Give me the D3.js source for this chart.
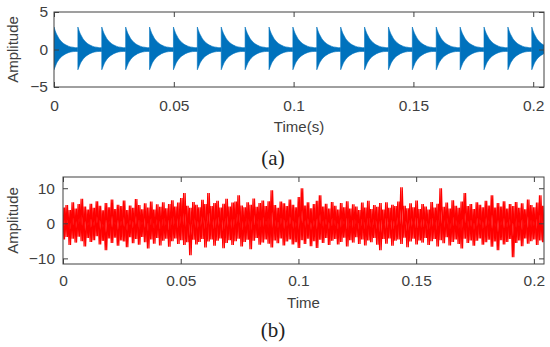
<!DOCTYPE html>
<html>
<head>
<meta charset="utf-8">
<script src="https://cdn.jsdelivr.net/npm/d3@7"></script>
<style>
  body { margin: 0; background: #fff; }
  .axis text { font-family: "Liberation Sans", Arial, sans-serif; font-size: 15.5px; fill: #404040; }
  .axis path, .axis line { stroke: #404040; }
  .axis-label { font-family: "Liberation Sans", Arial, sans-serif; font-size: 15px; fill: #404040; }
  .panel-label { font-family: "Liberation Serif", "Times New Roman", serif; font-size: 21px; fill: #222; }
</style>
</head>
<body>
<div id="chart"></div>
<script>
// (a) periodic impulse train: impulse start times (s) and decay envelope
const impulseTimes = [0, 0.00997, 0.01994, 0.02991, 0.03988, 0.04985, 0.05982, 0.06979,
  0.07976, 0.08973, 0.0997, 0.10967, 0.11964, 0.12961, 0.13958, 0.14955, 0.15952,
  0.16949, 0.17946, 0.18943, 0.1994];
const envOffsets = [0, 0.0005, 0.001, 0.0015, 0.002, 0.003, 0.004, 0.005, 0.006, 0.007, 0.008, 0.009, 0.0099];
const envUpper = [3.0, 2.5, 2.1, 1.8, 1.5, 1.1, 0.8, 0.6, 0.45, 0.35, 0.3, 0.25, 0.25];
const envLower = [-2.7, -2.3, -1.9, -1.6, -1.35, -1.0, -0.75, -0.55, -0.42, -0.33, -0.28, -0.25, -0.25];

// (b) noise: successive peaks / troughs, left to right
const noiseUpper = [
  4.5, 5.2, 3.8, 6.0, 4.2, 5.5, 7.0, 4.8, 3.9, 5.6,
  4.4, 6.3, 5.0, 3.7, 5.8, 4.6, 6.8, 4.1, 5.3, 4.9,
  6.5, 3.8, 5.1, 4.4, 6.9, 5.2, 4.0, 5.7, 4.5, 6.2,
  3.9, 5.4, 4.7, 6.0, 4.3, 5.5, 6.6, 4.8, 5.9, 7.2,
  8.6, 5.0, 4.4, 6.1, 5.3, 4.6, 6.7, 5.5, 8.6, 4.9,
  5.8, 6.4, 4.5, 5.6, 7.0, 4.8, 5.9, 6.2, 8.0, 5.1,
  4.6, 6.0, 5.3, 7.1, 4.7, 5.8, 6.5, 4.9, 6.3, 9.4,
  5.2, 4.4, 6.2, 5.7, 4.9, 6.8, 5.3, 4.6, 7.5, 10.0,
  5.1, 6.0, 4.3, 5.5, 6.4, 8.0, 4.8, 5.6, 4.2, 6.1,
  5.0, 3.9, 5.8, 4.6, 6.3, 4.2, 5.4, 4.8, 3.8, 5.9,
  4.5, 6.4, 4.1, 5.2, 4.7, 5.8, 3.9, 6.0, 4.4, 5.3,
  4.9, 6.2, 10.3, 5.0, 4.3, 5.7, 4.6, 6.5, 4.1, 5.5,
  4.8, 3.9, 6.1, 4.5, 5.6, 10.0, 4.7, 5.9, 4.2, 6.6,
  5.0, 4.4, 6.2, 8.6, 4.9, 5.5, 4.1, 6.0, 5.3, 4.6,
  6.4, 5.1, 8.0, 4.5, 5.8, 4.8, 6.3, 4.2, 5.5, 4.9,
  6.1, 4.4, 5.7, 4.0, 6.8, 5.2, 4.6, 5.9, 8.0, 5.0];
const noiseLower = [
  -4.6, -3.9, -6.2, -4.4, -5.5, -3.8, -5.1, -6.6, -4.2, -5.3,
  -4.8, -3.7, -6.0, -5.0, -7.7, -4.3, -5.6, -4.1, -6.4, -4.9,
  -5.2, -6.8, -4.0, -5.7, -4.5, -6.1, -3.9, -5.4, -7.2, -4.6,
  -5.8, -4.2, -6.3, -5.0, -4.4, -6.7, -5.1, -4.3, -5.9, -4.8,
  -6.2, -5.4, -9.1, -4.7, -6.0, -5.3, -4.5, -6.9, -5.2, -4.6,
  -6.4, -5.0, -4.3, -7.1, -5.6, -4.8, -6.2, -5.1, -4.4, -6.6,
  -5.3, -4.7, -7.4, -5.0, -4.2, -6.1, -5.5, -4.6, -5.8, -6.9,
  -4.9, -5.7, -4.3, -6.3, -5.2, -4.6, -6.0, -5.4, -7.0, -4.8,
  -5.9, -4.4, -6.5, -5.1, -7.0, -4.7, -5.6, -4.2, -6.2, -5.0,
  -4.5, -6.0, -5.3, -4.1, -6.6, -4.8, -5.5, -4.0, -5.9, -4.6,
  -6.3, -4.9, -5.4, -4.2, -6.1, -7.7, -4.5, -5.8, -4.3, -6.4,
  -5.0, -4.6, -5.9, -4.1, -6.8, -5.2, -4.4, -6.0, -4.9, -5.5,
  -4.2, -6.2, -5.1, -4.5, -6.6, -4.8, -5.7, -4.0, -6.3, -5.3,
  -4.6, -5.9, -7.2, -4.4, -5.6, -4.9, -6.4, -5.0, -4.3, -6.1,
  -5.4, -4.7, -6.7, -5.2, -7.7, -4.8, -6.0, -5.3, -4.5, -9.7,
  -5.6, -4.9, -6.5, -4.3, -5.8, -5.1, -4.6, -6.2, -4.9, -5.4];

const xTicks = [0, 0.05, 0.1, 0.15, 0.2];
const xTickLabels = ["0", "0.05", "0.1", "0.15", "0.2"];
const yTicksA = [-5, 0, 5];
const yTicksB = [-10, 0, 10];

const W = 550, H = 347;
const svg = d3.select("#chart").append("svg").attr("width", W).attr("height", H);

function panel(opts) {
  const { left, right, top, bottom, xMax, yDomain, yTicks, xPad, yPad } = opts;
  const x = d3.scaleLinear().domain([0, xMax]).range([left, right]);
  const y = d3.scaleLinear().domain(yDomain).range([bottom, top]);
  const fmt = (d) => xTickLabels[xTicks.indexOf(d)];

  const clipId = opts.id + "-clip";
  svg.append("clipPath").attr("id", clipId)
    .append("rect").attr("x", left).attr("y", top)
    .attr("width", right - left).attr("height", bottom - top);
  const plot = svg.append("g").attr("clip-path", `url(#${clipId})`);

  const g = svg.append("g");
  g.append("g").attr("class", "axis").attr("transform", `translate(0,${bottom})`)
    .call(d3.axisBottom(x).tickValues(xTicks).tickFormat(fmt).tickSizeInner(-5).tickSizeOuter(0).tickPadding(xPad))
    .call((s) => s.select(".domain").remove());
  g.append("g").attr("class", "axis").attr("transform", `translate(0,${top})`)
    .call(d3.axisTop(x).tickValues(xTicks).tickFormat("").tickSizeInner(-5).tickSizeOuter(0))
    .call((s) => s.select(".domain").remove());
  g.append("g").attr("class", "axis").attr("transform", `translate(${left},0)`)
    .call(d3.axisLeft(y).tickValues(yTicks).tickFormat(d3.format("d")).tickSizeInner(-5).tickSizeOuter(0).tickPadding(yPad))
    .call((s) => s.select(".domain").remove());
  g.append("g").attr("class", "axis").attr("transform", `translate(${right},0)`)
    .call(d3.axisRight(y).tickValues(yTicks).tickFormat("").tickSizeInner(-5).tickSizeOuter(0))
    .call((s) => s.select(".domain").remove());
  g.selectAll(".axis text").text(function () { return this.textContent.replace("-", "\u2212"); });

  g.append("rect").attr("x", left).attr("y", top)
    .attr("width", right - left).attr("height", bottom - top)
    .attr("fill", "none").attr("stroke", "#404040").attr("stroke-width", 1);

  g.append("text").attr("class", "axis-label")
    .attr("transform", `translate(${opts.yLabelX},${(top + bottom) / 2}) rotate(-90)`)
    .attr("text-anchor", "middle").attr("dominant-baseline", "middle")
    .text("Amplitude");
  g.append("text").attr("class", "axis-label")
    .attr("x", (left + right) / 2).attr("y", opts.xLabelY)
    .attr("text-anchor", "middle").text(opts.xLabel);
  svg.append("text").attr("class", "panel-label")
    .attr("x", 273).attr("y", opts.panelY)
    .attr("text-anchor", "middle").text(opts.panelText);

  return { x, y, plot };
}

// ---- (a)
const pa = panel({
  id: "a", left: 54, right: 544, top: 12, bottom: 87,
  xMax: 0.2045, yDomain: [-5, 5], yTicks: yTicksA, xPad: 13, yPad: 6,
  yLabelX: 14, xLabelY: 132, xLabel: "Time(s)", panelY: 165, panelText: "(a)",
});
const envelope = envOffsets.map((o, i) => ({ o, hi: envUpper[i], lo: envLower[i] }));
const burst = (t0) => d3.area()
  .x((d) => pa.x(t0 + d.o))
  .y0((d) => pa.y(d.lo))
  .y1((d) => pa.y(d.hi))
  .curve(d3.curveMonotoneX)(envelope);
pa.plot.selectAll(".burst")
  .data(impulseTimes)
  .join("path")
  .attr("class", "burst")
  .attr("d", (t0) => burst(t0))
  .attr("fill", "#0072BD")
  .attr("stroke", "#0072BD")
  .attr("stroke-width", 0.6);

// ---- (b)
const pb = panel({
  id: "b", left: 63, right: 544, top: 177, bottom: 264,
  xMax: 0.2043, yDomain: [-11.6, 13.2], yTicks: yTicksB, xPad: 11, yPad: 8,
  yLabelX: 14, xLabelY: 308, xLabel: "Time", panelY: 337, panelText: "(b)",
});
// two interleavings of the same peaks/troughs so the dense trace reads as solid
const traceA = noiseUpper.flatMap((u, i) => [u, noiseLower[i]]);
const traceB = noiseUpper.flatMap((u, i) => [noiseLower[i], u]);
const idx = d3.scaleLinear().domain([0, traceA.length - 1]).range([pb.x(0), pb.x(0.2043)]);
const noiseLine = d3.line().x((d, i) => idx(i)).y((d) => pb.y(d));
pb.plot.selectAll(".noise")
  .data([traceA, traceB])
  .join("path")
  .attr("class", "noise")
  .attr("d", noiseLine)
  .attr("fill", "none")
  .attr("stroke", "#FF0000")
  .attr("stroke-width", 1.2);
</script>
</body>
</html>
